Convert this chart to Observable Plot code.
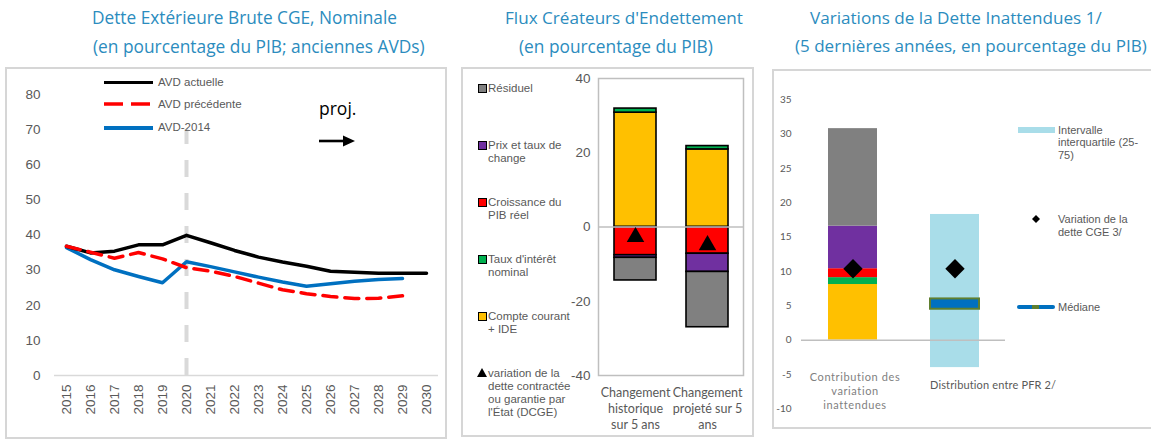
<!DOCTYPE html>
<html><head><meta charset="utf-8">
<script src="https://cdn.jsdelivr.net/npm/d3@7"></script>
<script src="https://cdn.jsdelivr.net/npm/@observablehq/plot@0.6"></script>
<style>
body{margin:0;background:#fff;width:1151px;height:443px;position:relative;overflow:hidden;font-family:"Liberation Sans",Arial,sans-serif}
.abs{position:absolute}
.title{position:absolute;font-family:"Open Sans",sans-serif;font-size:16px;color:#2b8cbe;white-space:nowrap;line-height:20px}
.box{position:absolute;border:2px solid #d6d6d6;box-sizing:border-box}
.leg{position:absolute;font-family:"Liberation Sans",Arial,sans-serif;font-size:11.5px;color:#595959;line-height:13px;white-space:nowrap}
.sq{position:absolute;width:9px;height:9px;border:1.6px solid #000;box-sizing:border-box}
.xl{position:absolute;font-family:Lato,sans-serif;font-size:11px;color:#7f7f7f;line-height:14px;text-align:center;white-space:nowrap;letter-spacing:0.6px}
</style></head><body>

<!-- titles -->
<div class="title" data-w="305" style="left:92px;top:8px">Dette Extérieure Brute CGE, Nominale</div>
<div class="title" data-w="332" style="left:93px;top:36px">(en pourcentage du PIB; anciennes AVDs)</div>
<div class="title" data-w="238" style="left:505px;top:8px">Flux Créateurs d'Endettement</div>
<div class="title" data-w="194" style="left:519px;top:36px">(en pourcentage du PIB)</div>
<div class="title" data-w="292" style="left:810px;top:8px">Variations de la Dette Inattendues 1/</div>
<div class="title" data-w="352" style="left:795px;top:36px">(5 dernières années, en pourcentage du PIB)</div>

<div class="box" style="left:5px;top:67px;width:442px;height:372px"></div>
<div class="box" style="left:461px;top:67px;width:293px;height:370px"></div>
<div class="box" style="left:772px;top:69px;width:385px;height:360px"></div>

<div id="p1" class="abs" style="left:6px;top:68px"></div>
<div id="p2" class="abs" style="left:462px;top:67px"></div>
<div id="p3" class="abs" style="left:773px;top:70px"></div>

<!-- panel 1 legend -->
<div class="abs" style="left:104px;top:80.5px;width:49px;height:3.5px;background:#000"></div>
<svg class="abs" style="left:104px;top:100px" width="49" height="8"><line x1="0" x2="49" y1="4" y2="4" stroke="#ff0000" stroke-width="3.5" stroke-dasharray="19,8"/></svg>
<div class="abs" style="left:104px;top:126px;width:49px;height:3.5px;background:#0070c0"></div>
<div class="leg" style="left:158px;top:75.5px">AVD actuelle</div>
<div class="leg" style="left:158px;top:97.5px">AVD précédente</div>
<div class="leg" style="left:158px;top:121px">AVD-2014</div>
<div class="abs" style="left:319px;top:97px;font-family:'Open Sans',sans-serif;font-size:17.5px;color:#000;line-height:22px">proj.</div>
<svg class="abs" style="left:318px;top:133px" width="40" height="16"><line x1="1" x2="28" y1="8" y2="8" stroke="#000" stroke-width="2.6"/><path d="M25,2.5 L37,8 L25,13.5 Z" fill="#000"/></svg>

<!-- panel 2 legend -->
<div class="sq" style="left:477.5px;top:84px;background:#808080"></div>
<div class="leg" style="left:488px;top:82px">Résiduel</div>
<div class="sq" style="left:477.5px;top:141px;background:#7030a0"></div>
<div class="leg" style="left:488px;top:139px">Prix et taux de<br>change</div>
<div class="sq" style="left:477.5px;top:198px;background:#ff0000"></div>
<div class="leg" style="left:488px;top:196px">Croissance du<br>PIB réel</div>
<div class="sq" style="left:477.5px;top:255px;background:#00b050"></div>
<div class="leg" style="left:488px;top:253px">Taux d'intérêt<br>nominal</div>
<div class="sq" style="left:477.5px;top:312px;background:#ffc000"></div>
<div class="leg" style="left:488px;top:310px">Compte courant<br>+ IDE</div>
<svg class="abs" style="left:477px;top:368px" width="10" height="9"><path d="M5,0 L10,9 L0,9 Z" fill="#000"/></svg>
<div class="leg" style="left:488px;top:367px">variation de la<br>dette contractée<br>ou garantie par<br>l'État (DCGE)</div>

<!-- panel 3 legend -->
<div class="abs" style="left:1018px;top:127px;width:37px;height:6px;background:#a9dde9"></div>
<div class="leg" style="left:1058px;top:123.5px;font-size:11px;line-height:12.8px">Intervalle<br>interquartile (25-<br>75)</div>
<svg class="abs" style="left:1032px;top:214.5px" width="8" height="8"><path d="M4,0 L8,4 L4,8 L0,4 Z" fill="#000"/></svg>
<div class="leg" style="left:1058px;top:213px;font-size:11px;line-height:13px">Variation de la<br>dette CGE 3/</div>
<div class="abs" style="left:1017px;top:304.7px;width:38px;height:4px;background:#0070c0;border-radius:2px"></div>
<div class="abs" style="left:1032px;top:304.7px;width:7px;height:4px;background:#5f7f2f"></div>
<div class="leg" style="left:1058px;top:301px;font-size:11px">Médiane</div>

<!-- panel 3 category labels -->
<div class="xl" style="left:795px;top:369.5px;width:120px">Contribution des<br>variation<br>inattendues</div>
<div class="xl" style="left:930px;top:377.5px;width:120px;text-align:left;letter-spacing:0.15px;color:#595959">Distribution entre PFR 2/</div>

<script>
// ---------- Panel 1 data ----------
const years = [2015, 2016, 2017, 2018, 2019, 2020, 2021, 2022, 2023, 2024, 2025, 2026, 2027, 2028, 2029, 2030];
const avdActuelle = [36.8, 34.9, 35.4, 37.2, 37.2, 39.9, 37.8, 35.6, 33.7, 32.3, 31.1, 29.7, 29.4, 29.1, 29.1, 29.1];
const avdPrecedente = [36.8, 35.1, 33.4, 35.0, 33.2, 30.7, 29.7, 28.2, 26.3, 24.4, 23.3, 22.5, 21.9, 22.0, 22.7];
const avd2014 = [36.4, 33.0, 30.1, 28.2, 26.4, 32.4, 31.0, 29.5, 28.0, 26.6, 25.4, 26.1, 26.8, 27.3, 27.6];
const yTicks1 = [0, 10, 20, 30, 40, 50, 60, 70, 80];
const projYear = 2020;
const projTop = 70;

// ---------- Panel 2 data ----------
const flowPeriods = ["hist", "proj"];
const flowLabels = ["Changement\nhistorique\nsur 5 ans", "Changement\nprojeté sur 5\nans"];
const components = ["Compte courant + IDE", "Taux d'intérêt nominal", "Croissance du PIB réel", "Prix et taux de change", "Résiduel"];
const componentColors = ["#ffc000", "#00b050", "#ff0000", "#7030a0", "#808080"];
const flowHist = [30.8, 1.1, -7.6, -0.7, -6.1];
const flowProj = [20.9, 0.9, -7.2, -4.9, -14.9];
const dcge = [-2.7, -4.9];
const yTicks2 = [-40, -20, 0, 20, 40];

// ---------- Panel 3 data ----------
const cats3 = ["Contribution", "Distribution"];
const contrib = [8.1, 1.0, 1.3, 6.2, 14.2];
const iqrLow = -4.0, iqrHigh = 18.3;
const medLow = 4.5, medHigh = 6.0;
const variationCGE = [10.4, 10.4];
const yTicks3 = [-10, -5, 0, 5, 10, 15, 20, 25, 30, 35];

// fit titles to widths
document.querySelectorAll(".title").forEach(el => {
  const w = el.getBoundingClientRect().width;
  const t = +el.dataset.w;
  el.style.fontSize = (16 * t / w) + "px";
});

// ---------- Panel 1 ----------
const ser = (name, vals) => vals.map((v, i) => ({year: years[i], value: v, serie: name}));
const p1 = Plot.plot({
  width: 441, height: 370,
  marginLeft: 48, marginRight: 9, marginTop: 26, marginBottom: 63,
  style: {fontFamily: "Liberation Sans, Arial, sans-serif", fontSize: "13.5px", color: "#595959", background: "transparent", overflow: "visible"},
  x: {type: "point", domain: years, padding: 0.5, label: null},
  y: {domain: [0, 80], label: null},
  marks: [
    Plot.axisY({ticks: yTicks1, tickSize: 0, tickPadding: 14, tickFormat: d => String(d)}),
    Plot.axisX({tickRotate: -90, tickSize: 0, tickPadding: 9, tickFormat: d => String(d)}),
    Plot.ruleY([0], {stroke: "#d9d9d9", strokeWidth: 1.5}),
    Plot.ruleX([projYear], {y1: 0, y2: projTop, stroke: "#d9d9d9", strokeWidth: 4, strokeDasharray: "17,16"}),
    Plot.line(ser("AVD-2014", avd2014), {x: "year", y: "value", stroke: "#0070c0", strokeWidth: 3.5}),
    Plot.line(ser("AVD actuelle", avdActuelle), {x: "year", y: "value", stroke: "#000", strokeWidth: 3.5}),
    Plot.line(ser("AVD précédente", avdPrecedente), {x: "year", y: "value", stroke: "#ff0000", strokeWidth: 3.5, strokeDasharray: "14,8"})
  ]
});
document.getElementById("p1").appendChild(p1);

// ---------- Panel 2 ----------
const flows = [];
components.forEach((c, i) => {
  flows.push({period: "hist", component: c, value: flowHist[i]});
  flows.push({period: "proj", component: c, value: flowProj[i]});
});
const dcgeData = flowPeriods.map((p, i) => ({period: p, value: dcge[i]}));
const p2 = Plot.plot({
  width: 290, height: 368,
  marginLeft: 136, marginRight: 9, marginTop: 11, marginBottom: 60,
  style: {fontFamily: "Liberation Sans, Arial, sans-serif", fontSize: "13.5px", color: "#595959", background: "transparent", overflow: "visible"},
  x: {domain: flowPeriods, paddingInner: 0.42, paddingOuter: 0.21, label: null},
  y: {domain: [-40, 40], label: null},
  color: {domain: components, range: componentColors},
  marks: [
    Plot.frame({stroke: "#bfbfbf", strokeWidth: 1.5}),
    Plot.axisY({ticks: yTicks2, tickSize: 0, tickPadding: 8, tickFormat: d => String(d)}),
    Plot.axisX({tickSize: 0, tickPadding: 10, tickFormat: d => flowLabels[flowPeriods.indexOf(d)], fontFamily: "Lato, sans-serif", fontSize: 12.5, lineHeight: 1.28}),
    Plot.barY(flows, {x: "period", y: "value", fill: "component", order: components, stroke: "#000", strokeWidth: 1.6}),
    Plot.ruleY([0], {stroke: "#bfbfbf", strokeWidth: 1.5}),
    Plot.dot(dcgeData, {x: "period", y: "value", symbol: "triangle", r: 6.5, fill: "#000", stroke: "none"})
  ]
});
document.getElementById("p2").appendChild(p2);

// ---------- Panel 3 ----------
const contribData = components.map((c, i) => ({cat: cats3[0], component: c, value: contrib[i]}));
const p3 = Plot.plot({
  width: 378, height: 358,
  marginLeft: 28, marginRight: 146, marginTop: 29.3, marginBottom: 19.7,
  style: {fontFamily: "Lato, sans-serif", fontSize: "10px", color: "#595959", background: "transparent", overflow: "visible"},
  x: {domain: cats3, paddingInner: 0.52, paddingOuter: 0.26, label: null, axis: null},
  y: {domain: [-10, 35], label: null},
  color: {domain: components, range: componentColors},
  marks: [
    Plot.axisY({ticks: yTicks3, tickSize: 0, tickPadding: 10, tickFormat: d => String(d)}),
    Plot.barY(contribData, {x: "cat", y: "value", fill: "component", order: components}),
    Plot.barY([{cat: cats3[1], lo: iqrLow, hi: iqrHigh}], {x: "cat", y1: "lo", y2: "hi", fill: "#a9dde9"}),
    Plot.barY([{cat: cats3[1], lo: medLow, hi: medHigh}], {x: "cat", y1: "lo", y2: "hi", fill: "#0070c0", stroke: "#5f7f2f", strokeWidth: 2}),
    Plot.ruleY([0], {stroke: "#bfbfbf", strokeWidth: 1.5}),
    Plot.dot(cats3.map((c, i) => ({cat: c, value: variationCGE[i]})), {x: "cat", y: "value", symbol: "diamond2", r: 8.7, fill: "#000", stroke: "none"})
  ]
});
document.getElementById("p3").appendChild(p3);
</script>
</body></html>
